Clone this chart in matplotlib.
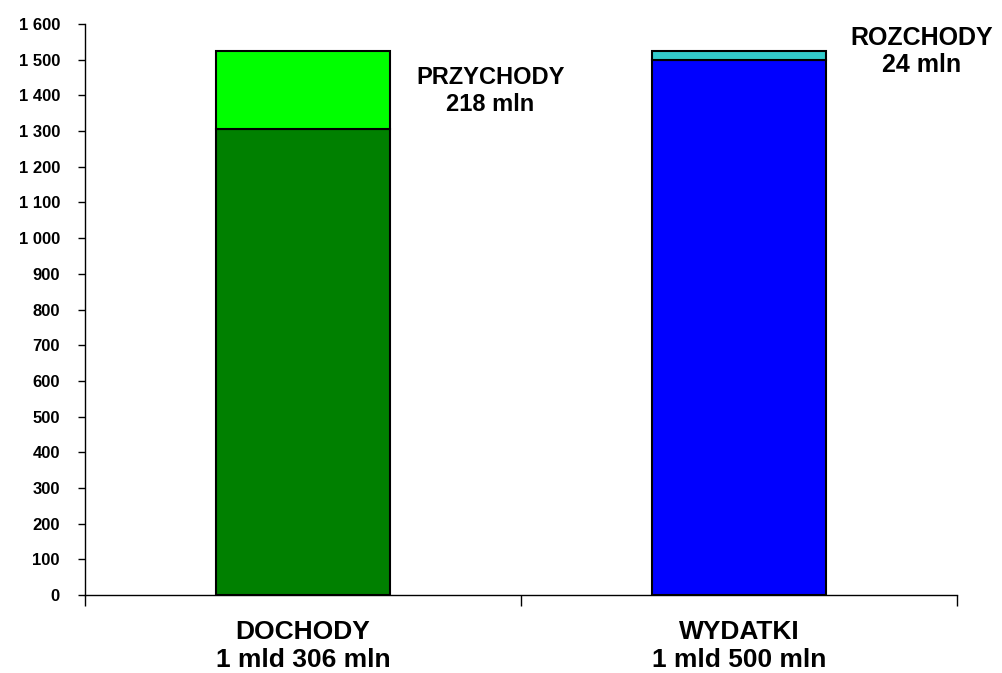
import matplotlib as mpl
mpl.use('Agg')
import matplotlib.pyplot as plt
from matplotlib.ticker import FuncFormatter

categories = ['DOCHODY\n1 mld 306 mln', 'WYDATKI\n1 mld 500 mln']
base = [1306, 1500]
top = [218, 24]
base_colors = ['#008000', '#0000FF']
top_colors = ['#00FF00', '#33CCCC']
top_labels = ['PRZYCHODY\n218 mln', 'ROZCHODY\n24 mln']

plt.rcParams['font.family'] = ['Liberation Sans', 'DejaVu Sans']
plt.rcParams['font.weight'] = 'bold'

fig = plt.figure(figsize=(10.03, 6.73), dpi=100)
ax = fig.add_axes([0.0847, 0.1159, 0.8693, 0.8484])

x = list(range(len(categories)))
ax.bar(x, base, width=0.4, color=base_colors, edgecolor='black', linewidth=1.5)
ax.bar(x, top, width=0.4, bottom=base, color=top_colors, edgecolor='black', linewidth=1.5)

# side labels for the stacked parts
ax.text(0.43, 1413, top_labels[0], ha='center', va='center', fontsize=17,
        fontweight='bold', linespacing=1.25, clip_on=False)
ax.text(1.42, 1523, top_labels[1], ha='center', va='center', fontsize=18,
        fontweight='bold', linespacing=1.2, clip_on=False)

ax.set_xlim(-0.5, 1.5)
ax.set_ylim(0, 1600)
ax.set_yticks(range(0, 1601, 100))
ax.yaxis.set_major_formatter(FuncFormatter(lambda v, p: '{:,}'.format(int(v)).replace(',', ' ')))
ax.tick_params(axis='y', direction='out', length=5, width=1, labelsize=12, pad=13)

ax.set_xticks(x)
ax.set_xticklabels(categories, fontsize=19, fontweight='bold', linespacing=1.2)
ax.set_xticks([-0.5, 0.5, 1.5], minor=True)
ax.tick_params(axis='x', which='major', length=0, pad=18)
ax.tick_params(axis='x', which='minor', direction='out', length=8, width=1)

for s in ['top', 'right']:
    ax.spines[s].set_visible(False)
for s in ['left', 'bottom']:
    ax.spines[s].set_linewidth(1)

for lab in ax.get_yticklabels():
    lab.set_fontweight('bold')

plt.savefig('out.png', dpi=100)
